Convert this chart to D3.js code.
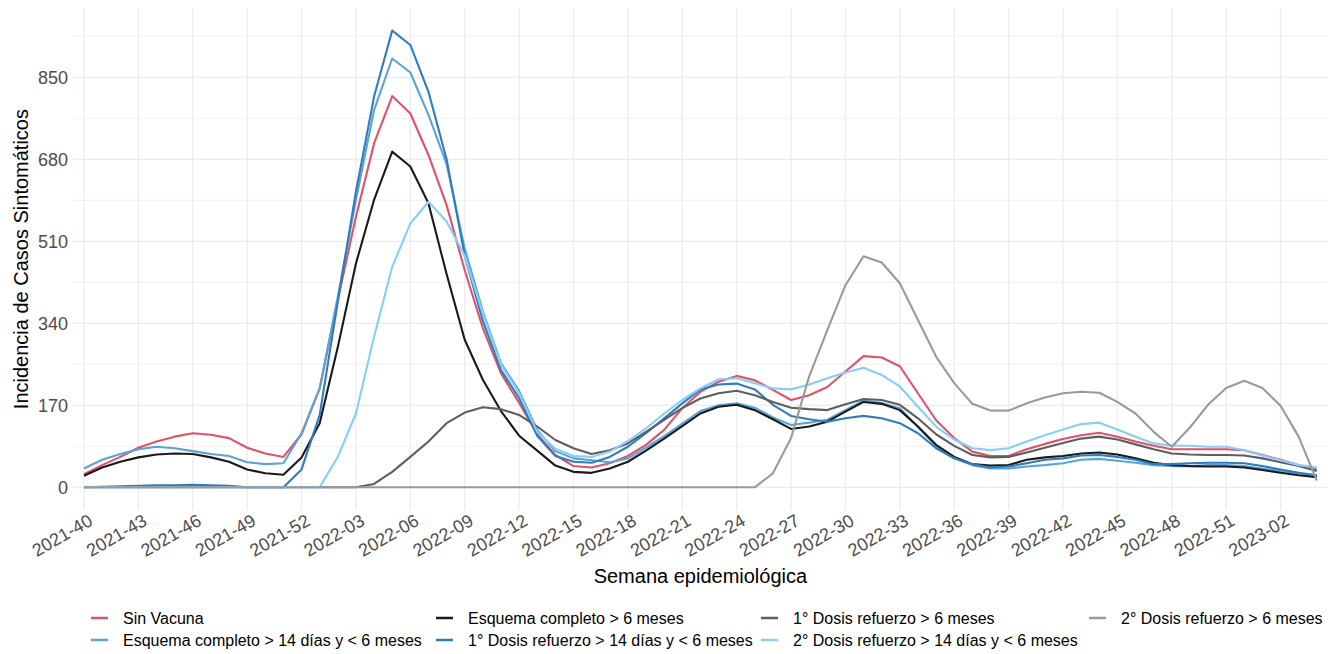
<!DOCTYPE html>
<html><head><meta charset="utf-8">
<script src="https://cdn.jsdelivr.net/npm/d3@7"></script>
<style>body{margin:0;background:#fff} svg{display:block}</style>
</head><body><svg id="c" width="1333" height="654"></svg>
<script>
const weeks = ["2021-40","2021-41","2021-42","2021-43","2021-44","2021-45","2021-46","2021-47","2021-48","2021-49","2021-50","2021-51","2021-52",
"2022-01","2022-02","2022-03","2022-04","2022-05","2022-06","2022-07","2022-08","2022-09","2022-10","2022-11","2022-12","2022-13","2022-14","2022-15","2022-16","2022-17","2022-18","2022-19","2022-20","2022-21","2022-22","2022-23","2022-24","2022-25","2022-26","2022-27","2022-28","2022-29","2022-30","2022-31","2022-32","2022-33","2022-34","2022-35","2022-36","2022-37","2022-38","2022-39","2022-40","2022-41","2022-42","2022-43","2022-44","2022-45","2022-46","2022-47","2022-48","2022-49","2022-50","2022-51","2022-52",
"2023-01","2023-02","2023-03","2023-04"];
const xTickLabels = ["2021-40","2021-43","2021-46","2021-49","2021-52","2022-03","2022-06","2022-09","2022-12","2022-15","2022-18","2022-21","2022-24","2022-27","2022-30","2022-33","2022-36","2022-39","2022-42","2022-45","2022-48","2022-51","2023-02"];
const yTicks = [0,170,340,510,680,850];
const yMinorTicks = [85,255,425,595,765,935];

const seriesNames = ["Sin Vacuna","Esquema completo > 14 días y < 6 meses","Esquema completo > 6 meses","1° Dosis refuerzo > 14 días y < 6 meses","1° Dosis refuerzo > 6 meses","2° Dosis refuerzo > 14 días y < 6 meses","2° Dosis refuerzo > 6 meses"];
const seriesColors = ["#DF5268","#5BA3D6","#1A1A1A","#2D7DBD","#5E5E5E","#87CEFA","#9A9A9A"];

const sinVacuna = [27,46,63,82,95,105,112,109,102,82,70,63,110,205,
388,561,713,811,775,689,585,450,330,236,175,110,67,44,41,
50,65,88,119,164,198,219,231,222,202,181,191,
208,240,272,269,251,195,139,102,74,65,65,79,
90,100,108,113,105,95,86,79,79,79,79,77,67,57,46,37];
const esqCompleto14 = [39,57,69,79,84,81,75,69,65,52,48,50,112,205,
395,596,782,889,860,772,670,495,365,257,200,119,75,60,56,
52,60,82,106,132,158,170,174,165,145,129,134,
140,160,180,175,164,125,85,60,46,39,39,43,
46,50,57,59,55,51,46,44,44,46,46,44,39,34,29,23];
const esqCompleto6 = [24,41,53,62,68,70,69,62,53,37,29,26,62,133,
291,464,596,696,665,589,442,306,223,158,107,76,45,32,30,
39,53,76,101,127,153,167,171,160,141,121,126,
136,157,177,173,160,126,88,63,48,45,46,57,
62,65,70,72,68,60,51,46,44,43,43,41,36,30,25,21];
const ref1_14 = [0,1,2,3,4,4,5,4,3,0,0,0,37,150,
385,613,810,947,917,820,680,480,345,243,185,107,65,53,51,
63,84,112,143,174,203,213,215,203,171,148,141,
136,143,148,143,133,112,81,60,48,41,43,50,
57,60,66,67,63,57,48,48,50,51,51,50,44,37,30,25];
const ref1_6 = [0,0,0,0,0,0,0,0,0,0,0,0,0,0,0,0,
7,32,63,95,133,155,166,162,150,126,98,81,69,
77,91,115,140,164,184,195,200,191,177,165,162,
160,172,183,181,171,143,110,86,67,62,63,72,
82,92,101,105,99,89,79,70,68,67,67,66,60,52,44,34];
const ref2_14 = [0,0,0,0,0,0,0,0,0,0,0,0,0,0,
63,153,312,457,547,592,551,480,360,254,195,115,80,65,63,
74,96,122,153,181,205,224,226,216,205,203,213,
226,238,248,233,209,167,126,99,81,77,81,95,
108,120,131,134,120,105,91,86,86,84,84,77,66,56,46,41];
const ref2_6 = [0,0,0,0,0,0,0,0,0,0,0,0,0,0,0,0,0,0,0,0,0,0,0,0,0,0,0,0,0,0,0,0,0,0,0,0,0,0,
29,102,230,326,419,479,466,423,347,271,216,173,159,159,174,
186,195,198,196,177,153,115,84,124,171,206,221,206,169,105,14];

const seriesValues = [sinVacuna, esqCompleto14, esqCompleto6, ref1_14, ref1_6, ref2_14, ref2_6];

const FONT = '"Liberation Sans", Arial, Helvetica, sans-serif';
const svg = d3.select("#c");
const x = d3.scalePoint().domain(weeks).range([84, 1316.8]);
const step = x.step();
const panelL = x(weeks[0]) - 0.6*step, panelR = x(weeks[weeks.length-1]) + 0.6*step;
const y = d3.scaleLinear().domain([0, 850]).range([487.3, 77.3]);
const panelT = y(993.5), panelB = y(-47.3);

const grid = svg.append("g");
grid.selectAll("line.minor").data(yMinorTicks).join("line")
  .attr("x1", panelL).attr("x2", panelR).attr("y1", d=>y(d)).attr("y2", d=>y(d))
  .attr("stroke", "#F1F1F1").attr("stroke-width", 1);
grid.selectAll("line.majorY").data(yTicks).join("line")
  .attr("x1", panelL).attr("x2", panelR).attr("y1", d=>y(d)).attr("y2", d=>y(d))
  .attr("stroke", "#EBEBEB").attr("stroke-width", 1.2);
grid.selectAll("line.majorX").data(xTickLabels).join("line")
  .attr("y1", panelT).attr("y2", panelB).attr("x1", d=>x(d)).attr("x2", d=>x(d))
  .attr("stroke", "#EBEBEB").attr("stroke-width", 1.2);

// axes
const gy = svg.append("g").attr("transform", `translate(${panelL},0)`)
  .call(d3.axisLeft(y).tickValues(yTicks).tickSize(0).tickPadding(5));
gy.select(".domain").remove();
gy.attr("font-family", FONT).attr("font-size", 18);
gy.selectAll("text").attr("fill", "#4D4D4D");

const gx = svg.append("g").attr("transform", `translate(0,${panelB})`)
  .call(d3.axisBottom(x).tickValues(xTickLabels).tickSize(0));
gx.select(".domain").remove();
gx.attr("font-family", FONT).attr("font-size", 18);
gx.selectAll("text").attr("fill", "#4D4D4D").attr("x", 0).attr("y", 0).attr("dy", "0.71em")
  .attr("text-anchor", "end").attr("transform", "translate(3,3) rotate(-30)");

// lines
const line = d3.line().x((d,i)=>x(weeks[i])).y(d=>y(d));
seriesValues.forEach((vals, k) => {
  svg.append("path").datum(vals).attr("d", line).attr("fill", "none")
    .attr("stroke", seriesColors[k]).attr("stroke-width", 2.1)
    .attr("stroke-linejoin", "round").attr("stroke-linecap", "butt");
});

// titles
svg.append("text").attr("x", (panelL+panelR)/2).attr("y", 583).attr("text-anchor", "middle")
  .attr("font-family", FONT).attr("font-size", 20).attr("fill", "#000").text("Semana epidemiológica");
svg.append("text").attr("transform", `translate(28,${(panelT+panelB)/2}) rotate(-90)`).attr("text-anchor", "middle")
  .attr("font-family", FONT).attr("font-size", 20).attr("fill", "#000").text("Incidencia de Casos Sintomáticos");

// legend (2 rows, filled by column)
const colX = [91, 436, 761, 1089];
const rowY = [618, 640];
const lg = svg.append("g");
seriesNames.forEach((name, k) => {
  const col = Math.floor(k/2), row = k % 2;
  const gx0 = colX[col], gy0 = rowY[row];
  lg.append("line").attr("x1", gx0).attr("x2", gx0+17).attr("y1", gy0).attr("y2", gy0)
    .attr("stroke", seriesColors[k]).attr("stroke-width", 2.5);
  lg.append("text").attr("x", gx0+32).attr("y", gy0+5.5).attr("font-family", FONT).attr("font-size", 16)
    .attr("fill", "#000").text(name);
});
</script></body></html>
